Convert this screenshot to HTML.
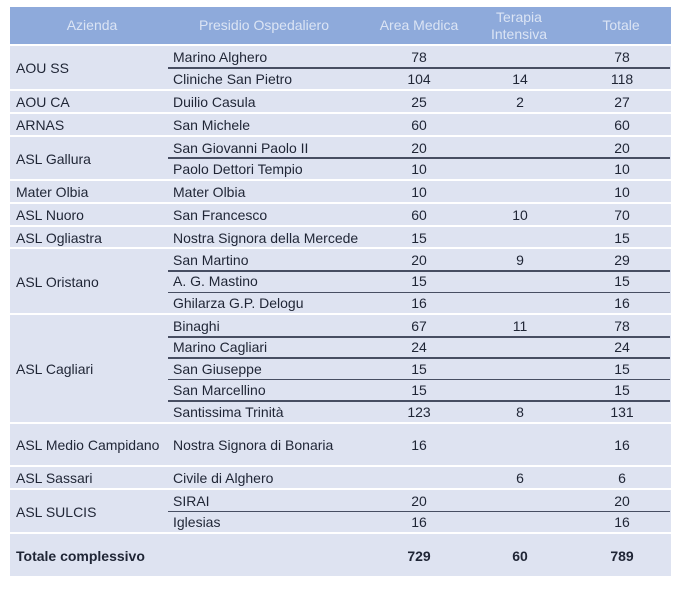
<!DOCTYPE html>
<html>
<head>
<meta charset="utf-8">
<style>
  html,body{margin:0;padding:0;background:#ffffff;}
  body{width:683px;height:600px;position:relative;overflow:hidden;
       font-family:"Liberation Sans",Arial,sans-serif;font-size:14px;color:#1f2535;}
  .bg{position:absolute;left:10px;width:661px;background:#dee3f1;}
  .hd{position:absolute;left:10px;top:7px;width:661px;height:37px;background:#8eaadb;}
  .ln{position:absolute;left:168px;width:502px;height:1.6px;background:#474e62;}
  .t{position:absolute;white-space:nowrap;margin-top:1px;}
  .a{left:16px;}
  .p{left:173px;}
  .n1,.n2,.n3{text-align:center;width:80px;}
  .n1{left:379px;}
  .n2{left:480px;}
  .n3{left:582px;}
  .h{color:#dbe4f4;margin-top:0;}
  .b{font-weight:bold;}
</style>
</head>
<body>
<!-- header -->
<div class="hd"></div>
<div class="t h" style="left:52px;width:80px;text-align:center;top:7px;height:37px;line-height:37px;">Azienda</div>
<div class="t h" style="left:184px;width:160px;text-align:center;top:7px;height:37px;line-height:37px;">Presidio Ospedaliero</div>
<div class="t h" style="left:369px;width:100px;text-align:center;top:7px;height:37px;line-height:37px;">Area Medica</div>
<div class="t h" style="left:469px;width:100px;text-align:center;top:9px;line-height:17px;">Terapia<br>Intensiva</div>
<div class="t h" style="left:581px;width:80px;text-align:center;top:7px;height:37px;line-height:37px;">Totale</div>

<!-- AOU SS -->
<div class="bg" style="top:46px;height:43px;"></div>
<div class="ln" style="top:67px;"></div>
<div class="t a" style="top:46px;line-height:43px;">AOU SS</div>
<div class="t p" style="top:46px;line-height:21.5px;">Marino Alghero</div>
<div class="t n1" style="top:46px;line-height:21.5px;">78</div>
<div class="t n3" style="top:46px;line-height:21.5px;">78</div>
<div class="t p" style="top:68px;line-height:21.5px;">Cliniche San Pietro</div>
<div class="t n1" style="top:68px;line-height:21.5px;">104</div>
<div class="t n2" style="top:68px;line-height:21.5px;">14</div>
<div class="t n3" style="top:68px;line-height:21.5px;">118</div>

<!-- AOU CA -->
<div class="bg" style="top:91px;height:21px;"></div>
<div class="t a" style="top:91px;line-height:21px;">AOU CA</div>
<div class="t p" style="top:91px;line-height:21px;">Duilio Casula</div>
<div class="t n1" style="top:91px;line-height:21px;">25</div>
<div class="t n2" style="top:91px;line-height:21px;">2</div>
<div class="t n3" style="top:91px;line-height:21px;">27</div>

<!-- ARNAS -->
<div class="bg" style="top:114px;height:21px;"></div>
<div class="t a" style="top:114px;line-height:21px;">ARNAS</div>
<div class="t p" style="top:114px;line-height:21px;">San Michele</div>
<div class="t n1" style="top:114px;line-height:21px;">60</div>
<div class="t n3" style="top:114px;line-height:21px;">60</div>

<!-- ASL Gallura -->
<div class="bg" style="top:137px;height:42px;"></div>
<div class="ln" style="top:157px;"></div>
<div class="t a" style="top:137px;line-height:42px;">ASL Gallura</div>
<div class="t p" style="top:137px;line-height:21px;">San Giovanni Paolo II</div>
<div class="t n1" style="top:137px;line-height:21px;">20</div>
<div class="t n3" style="top:137px;line-height:21px;">20</div>
<div class="t p" style="top:158px;line-height:21px;">Paolo Dettori Tempio</div>
<div class="t n1" style="top:158px;line-height:21px;">10</div>
<div class="t n3" style="top:158px;line-height:21px;">10</div>

<!-- Mater Olbia -->
<div class="bg" style="top:181px;height:21px;"></div>
<div class="t a" style="top:181px;line-height:21px;">Mater Olbia</div>
<div class="t p" style="top:181px;line-height:21px;">Mater Olbia</div>
<div class="t n1" style="top:181px;line-height:21px;">10</div>
<div class="t n3" style="top:181px;line-height:21px;">10</div>

<!-- ASL Nuoro -->
<div class="bg" style="top:204px;height:21px;"></div>
<div class="t a" style="top:204px;line-height:21px;">ASL Nuoro</div>
<div class="t p" style="top:204px;line-height:21px;">San Francesco</div>
<div class="t n1" style="top:204px;line-height:21px;">60</div>
<div class="t n2" style="top:204px;line-height:21px;">10</div>
<div class="t n3" style="top:204px;line-height:21px;">70</div>

<!-- ASL Ogliastra -->
<div class="bg" style="top:227px;height:20px;"></div>
<div class="t a" style="top:227px;line-height:20px;">ASL Ogliastra</div>
<div class="t p" style="top:227px;line-height:20px;">Nostra Signora della Mercede</div>
<div class="t n1" style="top:227px;line-height:20px;">15</div>
<div class="t n3" style="top:227px;line-height:20px;">15</div>

<!-- ASL Oristano -->
<div class="bg" style="top:249px;height:64px;"></div>
<div class="ln" style="top:270px;"></div>
<div class="ln" style="top:291.5px;"></div>
<div class="t a" style="top:249px;line-height:64px;">ASL Oristano</div>
<div class="t p" style="top:249px;line-height:21.3px;">San Martino</div>
<div class="t n1" style="top:249px;line-height:21.3px;">20</div>
<div class="t n2" style="top:249px;line-height:21.3px;">9</div>
<div class="t n3" style="top:249px;line-height:21.3px;">29</div>
<div class="t p" style="top:270.3px;line-height:21.3px;">A. G. Mastino</div>
<div class="t n1" style="top:270.3px;line-height:21.3px;">15</div>
<div class="t n3" style="top:270.3px;line-height:21.3px;">15</div>
<div class="t p" style="top:291.7px;line-height:21.3px;">Ghilarza G.P. Delogu</div>
<div class="t n1" style="top:291.7px;line-height:21.3px;">16</div>
<div class="t n3" style="top:291.7px;line-height:21.3px;">16</div>

<!-- ASL Cagliari -->
<div class="bg" style="top:315px;height:107px;"></div>
<div class="ln" style="top:336px;"></div>
<div class="ln" style="top:357.4px;"></div>
<div class="ln" style="top:378.8px;"></div>
<div class="ln" style="top:400.2px;"></div>
<div class="t a" style="top:315px;line-height:107px;">ASL Cagliari</div>
<div class="t p" style="top:315px;line-height:21.4px;">Binaghi</div>
<div class="t n1" style="top:315px;line-height:21.4px;">67</div>
<div class="t n2" style="top:315px;line-height:21.4px;">11</div>
<div class="t n3" style="top:315px;line-height:21.4px;">78</div>
<div class="t p" style="top:336.4px;line-height:21.4px;">Marino Cagliari</div>
<div class="t n1" style="top:336.4px;line-height:21.4px;">24</div>
<div class="t n3" style="top:336.4px;line-height:21.4px;">24</div>
<div class="t p" style="top:357.8px;line-height:21.4px;">San Giuseppe</div>
<div class="t n1" style="top:357.8px;line-height:21.4px;">15</div>
<div class="t n3" style="top:357.8px;line-height:21.4px;">15</div>
<div class="t p" style="top:379.2px;line-height:21.4px;">San Marcellino</div>
<div class="t n1" style="top:379.2px;line-height:21.4px;">15</div>
<div class="t n3" style="top:379.2px;line-height:21.4px;">15</div>
<div class="t p" style="top:400.6px;line-height:21.4px;">Santissima Trinità</div>
<div class="t n1" style="top:400.6px;line-height:21.4px;">123</div>
<div class="t n2" style="top:400.6px;line-height:21.4px;">8</div>
<div class="t n3" style="top:400.6px;line-height:21.4px;">131</div>

<!-- ASL Medio Campidano -->
<div class="bg" style="top:424px;height:41px;"></div>
<div class="t a" style="top:424px;line-height:41px;">ASL Medio Campidano</div>
<div class="t p" style="top:424px;line-height:41px;">Nostra Signora di Bonaria</div>
<div class="t n1" style="top:424px;line-height:41px;">16</div>
<div class="t n3" style="top:424px;line-height:41px;">16</div>

<!-- ASL Sassari -->
<div class="bg" style="top:467px;height:21px;"></div>
<div class="t a" style="top:467px;line-height:21px;">ASL Sassari</div>
<div class="t p" style="top:467px;line-height:21px;">Civile di Alghero</div>
<div class="t n2" style="top:467px;line-height:21px;">6</div>
<div class="t n3" style="top:467px;line-height:21px;">6</div>

<!-- ASL SULCIS -->
<div class="bg" style="top:490px;height:42px;"></div>
<div class="ln" style="top:510.5px;"></div>
<div class="t a" style="top:490px;line-height:42px;">ASL SULCIS</div>
<div class="t p" style="top:490px;line-height:21px;">SIRAI</div>
<div class="t n1" style="top:490px;line-height:21px;">20</div>
<div class="t n3" style="top:490px;line-height:21px;">20</div>
<div class="t p" style="top:511px;line-height:21px;">Iglesias</div>
<div class="t n1" style="top:511px;line-height:21px;">16</div>
<div class="t n3" style="top:511px;line-height:21px;">16</div>

<!-- Totale -->
<div class="bg" style="top:534px;height:42px;"></div>
<div class="t a b" style="top:534px;line-height:42px;">Totale complessivo</div>
<div class="t n1 b" style="top:534px;line-height:42px;">729</div>
<div class="t n2 b" style="top:534px;line-height:42px;">60</div>
<div class="t n3 b" style="top:534px;line-height:42px;">789</div>
</body>
</html>
